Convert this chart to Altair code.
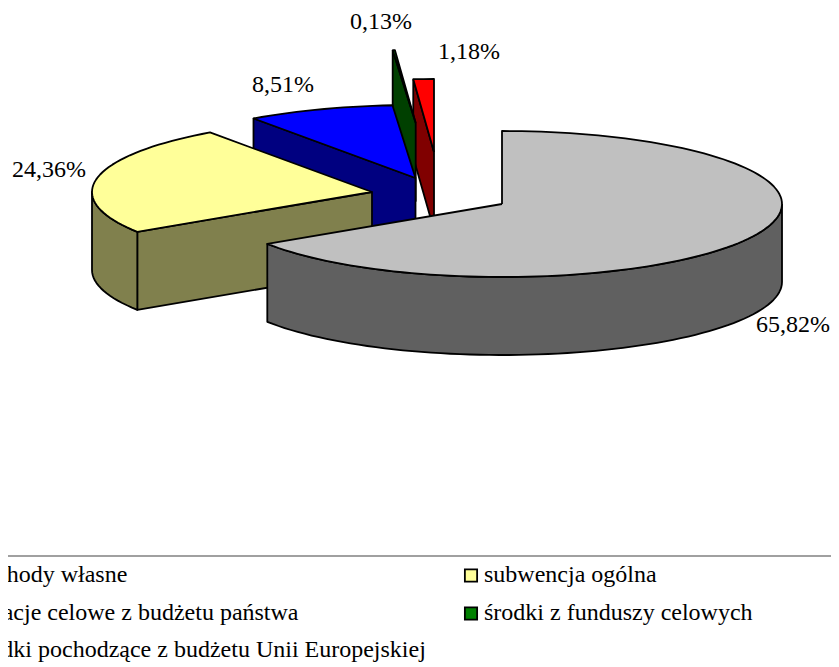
import math
import altair as alt
import pandas as pd

names = ["dochody własne", "subwencja ogólna", "dotacje celowe z budżetu państwa",
         "środki z funduszy celowych", "środki pochodzące z budżetu Unii Europejskiej"]
shares = [65.82, 24.36, 8.51, 0.13, 1.18]
labels = ["65,82%", "24,36%", "8,51%", "0,13%", "1,18%"]
top_colors = ["#C0C0C0", "#FFFF99", "#0000FF", "#008000", "#FF0000"]
side_colors = ["#606060", "#80804D", "#000080", "#004000", "#800000"]

# pie geometry, in page pixels
RX, RY, DEPTH = 280, 73, 78
hub_x = [502, 372, 415.5, 415.7, 434]     # exploded hub of each slice
hub_y = [204, 192, 178, 123, 152]
label_x = [793, 49, 283, 381, 469]
label_y = [325, 170, 85, 22, 52]
legend_x = [-28, 484, -28, 484, -28]
legend_y = [582, 582, 620, 620, 657]
swatch_x = [-47, 471, -47, 471, -47]
swatch_y = [575.5, 575.5, 613.5, 613.5, 651]

W, H = 823, 659
xs = alt.Scale(domain=[8, 8 + W], nice=False, zero=False)
ys = alt.Scale(domain=[8 + H, 8], nice=False, zero=False)


def pt(i, deg, drop=0):
    a = math.radians(deg)
    return hub_x[i] + RX * math.sin(a), hub_y[i] - RY * math.cos(a) + drop


def arc(i, a0, a1, drop=0):
    n = max(2, int(abs(a1 - a0) / 2) + 1)
    return [pt(i, a0 + (a1 - a0) * k / (n - 1), drop) for k in range(n)]


def poly(points, fill):
    pts = list(points) + [points[0]]
    df = pd.DataFrame({"x": [p[0] for p in pts], "y": [p[1] for p in pts], "o": range(len(pts))})
    return alt.Chart(df).mark_line(fill=fill, stroke="black", strokeWidth=1.8, strokeJoin="round").encode(
        x=alt.X("x:Q", scale=xs, axis=None),
        y=alt.Y("y:Q", scale=ys, axis=None),
        order="o:Q",
    )


starts = []
acc = 0.0
for s in shares:
    starts.append(acc * 3.6)
    acc += s
ends = [st + s * 3.6 for st, s in zip(starts, shares)]

layers = []
for i in [4, 3, 2, 1, 0]:
    a0, a1 = starts[i], ends[i]
    hub = (hub_x[i], hub_y[i])
    hub_low = (hub_x[i], hub_y[i] + DEPTH)
    if i == 0:
        front = arc(i, 90, a1)
        layers.append(poly(front + arc(i, a1, 90, DEPTH), side_colors[i]))
    else:
        # radial cut face
        p = pt(i, a0)
        layers.append(poly([p, hub, hub_low, pt(i, a0, DEPTH)], side_colors[i]))
        if i == 1:
            layers.append(poly(arc(i, a0, 270) + arc(i, 270, a0, DEPTH), side_colors[i]))
    layers.append(poly([hub] + arc(i, a0, a1), top_colors[i]))

font = "Liberation Serif"
lab_df = pd.DataFrame({"x": label_x, "y": label_y, "t": labels})
layers.append(alt.Chart(lab_df).mark_text(font=font, fontSize=24, color="black", baseline="middle", align="center").encode(
    x=alt.X("x:Q", scale=xs, axis=None), y=alt.Y("y:Q", scale=ys, axis=None), text="t:N"))

rule_df = pd.DataFrame({"x": [0], "x2": [839], "y": [556]})
layers.append(alt.Chart(rule_df).mark_rule(color="#808080", strokeWidth=1.5).encode(
    x=alt.X("x:Q", scale=xs, axis=None), x2="x2:Q", y=alt.Y("y:Q", scale=ys, axis=None)))

sw_df = pd.DataFrame({"x": swatch_x, "y": swatch_y, "c": top_colors})
layers.append(alt.Chart(sw_df).mark_square(size=150, opacity=1, stroke="black", strokeWidth=1.8, filled=True).encode(
    x=alt.X("x:Q", scale=xs, axis=None), y=alt.Y("y:Q", scale=ys, axis=None),
    fill=alt.Fill("c:N", scale=None)))

leg_df = pd.DataFrame({"x": legend_x, "y": legend_y, "t": names})
layers.append(alt.Chart(leg_df).mark_text(font=font, fontSize=24, color="black", baseline="alphabetic", align="left").encode(
    x=alt.X("x:Q", scale=xs, axis=None), y=alt.Y("y:Q", scale=ys, axis=None), text="t:N"))

chart = alt.layer(*layers).properties(
    width=W, height=H, padding=0, autosize=alt.AutoSizeParams(type="none"),
    background="white",
).configure_view(strokeWidth=0)

chart.save("out.html", embed_options={"renderer": "svg", "actions": False})
